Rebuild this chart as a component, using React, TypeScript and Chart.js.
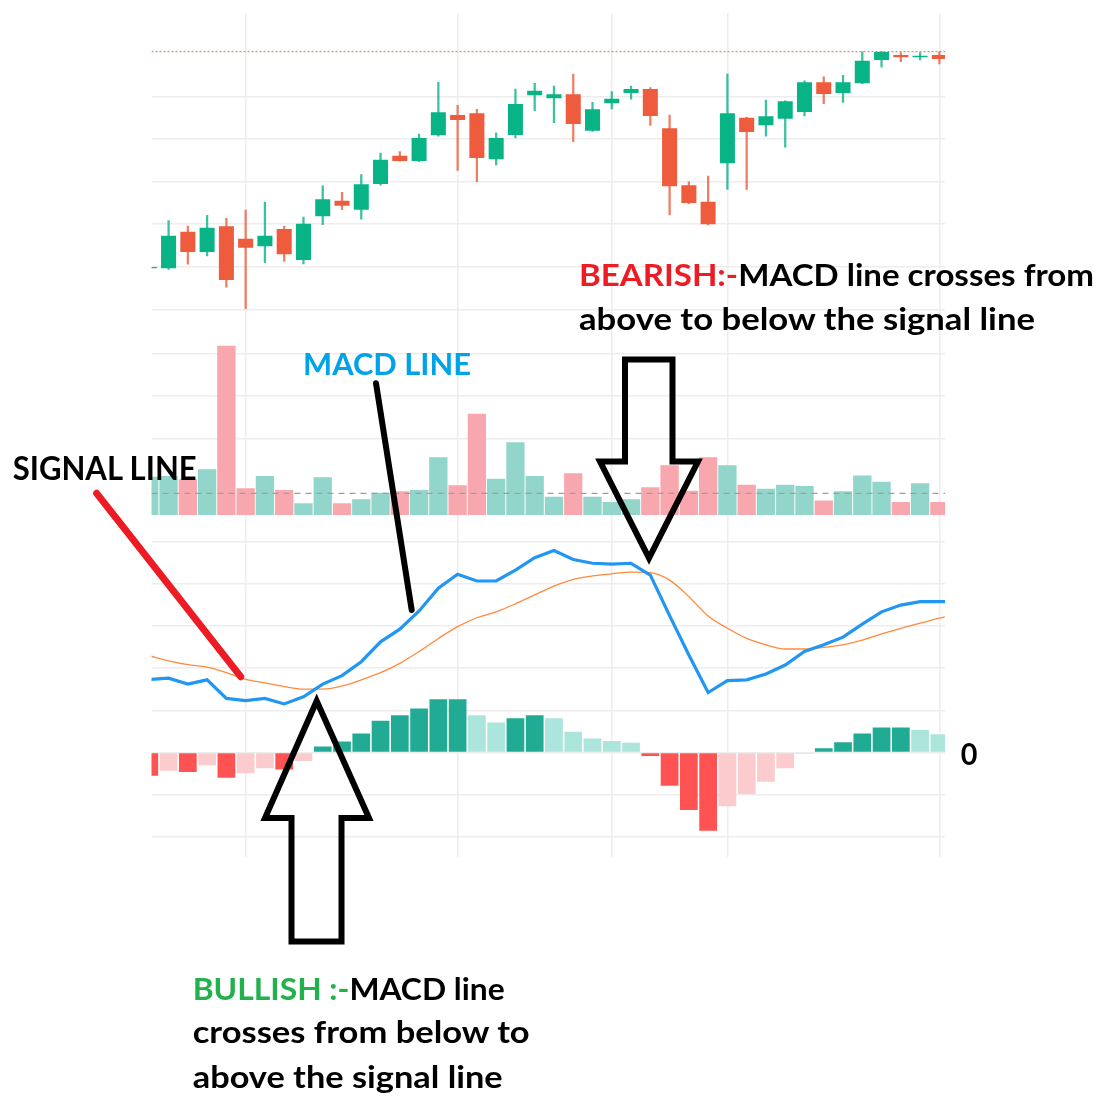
import React, { useEffect, useRef } from 'react';
import { Chart, registerables } from 'chart.js';

Chart.register(...registerables);

// ---- categories (trading sessions) ----
const sessions = Array.from({ length: 42 }, (_, i) => i);
const periodMarks = [5, 16, 24, 30, 41];

// ---- price candles ----
const openPrices = [104.83, 104.82, 109.12, 106.73, 109.75, 108.3, 107.4, 109.44, 105.79, 110.93, 112.76, 111.7, 114.72, 118.05, 117.43, 120.45, 122.83, 123.03, 117.63, 120.48, 125.15, 124.79, 125.26, 120.99, 124.21, 125.42, 125.89, 121.27, 114.57, 112.64, 117.16, 122.52, 121.62, 122.4, 123.18, 126.67, 125.42, 126.56, 129.29, 129.88, 129.61, 129.88];
const closePrices = [104.98, 108.65, 106.73, 109.59, 103.44, 107.24, 108.65, 106.46, 110.06, 112.93, 112.17, 114.69, 117.58, 117.43, 120.13, 123.15, 122.24, 117.78, 120.13, 124.12, 125.69, 125.26, 121.77, 123.5, 124.75, 125.89, 122.71, 114.45, 112.49, 109.99, 123.03, 120.83, 122.68, 124.44, 126.67, 125.3, 126.67, 129.21, 130.24, 129.61, 129.8, 129.41];
const highPrices = [105.05, 110.41, 109.79, 111.05, 110.69, 111.67, 112.61, 109.75, 110.85, 114.52, 113.75, 115.82, 118.37, 118.52, 120.6, 126.67, 123.97, 123.5, 120.75, 125.89, 126.56, 126.24, 127.65, 124.32, 125.57, 126.24, 126.04, 122.83, 114.99, 115.66, 127.65, 122.6, 124.59, 124.5, 126.86, 127.33, 127.5, 130.24, 130.27, 130.16, 130.16, 130.24];
const lowPrices = [104.78, 104.7, 105.29, 106.26, 102.59, 100.07, 105.48, 105.64, 105.32, 109.94, 111.7, 110.58, 114.6, 117.4, 117.35, 120.35, 116.33, 114.99, 116.96, 120.13, 123.34, 121.93, 119.69, 120.9, 123.54, 124.68, 121.62, 111.08, 112.4, 109.9, 114.1, 114.1, 120.33, 119.04, 122.71, 124.16, 124.32, 126.5, 128.44, 129.1, 129.29, 128.82];
const priceLineLevel = 130.27;
const priceGrid = [100, 105, 110, 115, 120, 125];

// ---- volume ----
const volumes = [9.0, 9.2, 8.4, 10.75, 39.8, 6.3, 9.2, 5.9, 2.75, 8.9, 2.75, 3.7, 5.25, 5.6, 5.9, 13.6, 7.0, 23.8, 8.5, 17.1, 9.2, 4.3, 9.8, 4.3, 3.05, 3.7, 6.5, 11.7, 5.7, 13.6, 11.7, 7.1, 6.2, 7.1, 6.8, 3.4, 5.6, 9.3, 7.8, 3.05, 7.45, 3.05];
const volumeAvgLevel = 5.1;
const volumeGrid = [18, 28, 38];

// ---- MACD (lines run one session past the visible edge) ----
const macdLine = [1.73, 1.76, 1.62, 1.72, 1.28, 1.23, 1.28, 1.15, 1.32, 1.62, 1.82, 2.15, 2.62, 2.92, 3.35, 3.89, 4.22, 4.06, 4.06, 4.32, 4.61, 4.78, 4.57, 4.48, 4.46, 4.48, 4.2, 3.24, 2.31, 1.42, 1.7, 1.72, 1.86, 2.07, 2.39, 2.55, 2.73, 3.04, 3.33, 3.49, 3.57, 3.57, 3.57];
const signalLine = [2.29, 2.17, 2.08, 2.02, 1.89, 1.73, 1.65, 1.56, 1.5, 1.5, 1.57, 1.72, 1.89, 2.11, 2.39, 2.7, 2.98, 3.19, 3.33, 3.52, 3.73, 3.94, 4.1, 4.18, 4.23, 4.27, 4.26, 4.08, 3.69, 3.23, 2.94, 2.7, 2.55, 2.45, 2.45, 2.49, 2.55, 2.66, 2.81, 2.94, 3.06, 3.18, 3.28];
const histogram = [-0.55, -0.43, -0.46, -0.3, -0.6, -0.49, -0.37, -0.4, -0.2, 0.14, 0.26, 0.45, 0.75, 0.88, 1.04, 1.26, 1.26, 0.88, 0.71, 0.81, 0.88, 0.81, 0.49, 0.33, 0.27, 0.23, -0.08, -0.79, -1.36, -1.85, -1.27, -0.98, -0.69, -0.37, -0.03, 0.1, 0.24, 0.45, 0.59, 0.59, 0.53, 0.43];
const macdGrid = [-2, -1, 0, 1, 2, 3, 4, 5];

// ---- styling ----
const GREEN = '#08B386';
const RED = '#EE5B3D';
const GRID = '#EDEDED';

const X_MIN = 0.114;
const X_MAX = 41.292;

function hiddenAxis(min: number, max: number, ticks: number[]) {
  return {
    type: 'linear' as const,
    position: 'left' as const,
    min,
    max,
    bounds: 'data' as const,
    ticks: { display: false },
    border: { display: false },
    grid: { color: GRID, lineWidth: 1.5, drawTicks: false },
    afterBuildTicks: (axis: any) => {
      axis.ticks = ticks.map((v) => ({ value: v }));
    },
  };
}

export default function App() {
  const ref = useRef<HTMLCanvasElement>(null);

  useEffect(() => {
    const up = sessions.map((i) => closePrices[i] >= openPrices[i]);
    const bodyColors = up.map((u) => (u ? GREEN : RED));
    const wickColors = up.map((u) => (u ? 'rgba(8,179,134,0.8)' : 'rgba(238,91,61,0.8)'));
    const volColors = up.map((u) => (u ? '#92D5CA' : '#F9A7AE'));
    const histColors = histogram.map((v, i) => {
      const prev = i > 0 ? histogram[i - 1] : v;
      if (v >= 0) return v >= prev ? '#22AB94' : '#ACE5DC';
      return v <= prev ? '#FF5252' : '#FCCBCD';
    });

    const chart = new Chart(ref.current as HTMLCanvasElement, {
      type: 'bar',
      data: {
        datasets: [
          {
            type: 'line',
            label: 'MACD',
            data: macdLine.map((v, i) => ({ x: i, y: v })),
            yAxisID: 'yH',
            borderColor: '#2196F3',
            borderWidth: 3.2,
            pointRadius: 0,
            tension: 0,
            order: 1,
          } as any,
          {
            type: 'line',
            label: 'Signal',
            data: signalLine.map((v, i) => ({ x: i, y: v })),
            yAxisID: 'yH',
            borderColor: '#FF8A3D',
            borderWidth: 1.3,
            pointRadius: 0,
            cubicInterpolationMode: 'monotone',
            order: 2,
          } as any,
          {
            type: 'bar',
            label: 'Histogram',
            data: sessions.map((i) => ({ x: i, y: histogram[i] })),
            yAxisID: 'yH',
            backgroundColor: histColors,
            barPercentage: 0.92,
            categoryPercentage: 1,
            grouped: false,
            order: 6,
          } as any,
          {
            type: 'line',
            label: 'Volume average',
            data: [
              { x: X_MIN, y: volumeAvgLevel },
              { x: X_MAX, y: volumeAvgLevel },
            ],
            yAxisID: 'yV',
            borderColor: '#9E9E9E',
            borderWidth: 1.2,
            borderDash: [6, 5],
            pointRadius: 0,
            order: 3,
          } as any,
          {
            type: 'bar',
            label: 'Volume',
            data: sessions.map((i) => ({ x: i, y: volumes[i] })),
            yAxisID: 'yV',
            backgroundColor: volColors,
            barPercentage: 0.95,
            categoryPercentage: 1,
            grouped: false,
            order: 7,
          } as any,
          {
            type: 'line',
            label: 'Price line',
            data: [
              { x: X_MIN, y: priceLineLevel },
              { x: X_MAX, y: priceLineLevel },
            ],
            yAxisID: 'yP',
            borderColor: 'rgba(238,91,61,0.75)',
            borderWidth: 1.2,
            borderDash: [2, 2],
            pointRadius: 0,
            order: 4,
          } as any,
          {
            type: 'bar',
            label: 'Candle body',
            data: sessions.map((i) => ({ x: i, y: [openPrices[i], closePrices[i]] })),
            yAxisID: 'yP',
            backgroundColor: bodyColors,
            barPercentage: 0.78,
            categoryPercentage: 1,
            grouped: false,
            order: 8,
          } as any,
          {
            type: 'bar',
            label: 'Candle wick',
            data: sessions.map((i) => ({ x: i, y: [lowPrices[i], highPrices[i]] })),
            yAxisID: 'yP',
            backgroundColor: wickColors,
            barThickness: 1.6,
            grouped: false,
            order: 9,
          } as any,
        ],
      },
      options: {
        responsive: false,
        animation: false,
        events: [],
        layout: { padding: { left: 151.5, top: 13, right: 156, bottom: 243 } },
        plugins: { legend: { display: false }, tooltip: { enabled: false } },
        scales: {
          x: {
            type: 'linear',
            min: X_MIN,
            max: X_MAX,
            offset: false,
            bounds: 'data',
            ticks: { display: false },
            border: { display: false },
            grid: { color: GRID, lineWidth: 1.5, drawTicks: false, offset: false },
            afterBuildTicks: (axis: any) => {
              axis.ticks = periodMarks.map((v) => ({ value: v }));
            },
          },
          yP: hiddenAxis(35.64, 134.817, priceGrid),
          yV: hiddenAxis(-80.471, 118.118, volumeGrid),
          yH: hiddenAxis(-2.474, 17.507, macdGrid),
        } as any,
      },
    });
    return () => chart.destroy();
  }, []);

  const font = { fontFamily: 'Lato, "Open Sans", sans-serif', fontWeight: 700 } as const;

  return (
    <div style={{ position: 'absolute', left: 0, top: 0, width: 1101, height: 1100, background: '#fff', overflow: 'hidden' }}>
      <canvas ref={ref} width={1101} height={1100} style={{ position: 'absolute', left: 0, top: 0, display: 'block' }} />
      <svg width={1101} height={1100} style={{ position: 'absolute', left: 0, top: 0 }}>
        {/* pointer lines */}
        <line x1={96.7} y1={493.3} x2={240.7} y2={676.7} stroke="#ED1C24" strokeWidth={7} strokeLinecap="round" />
        <line x1={376} y1={383.3} x2={411.7} y2={610} stroke="#000" strokeWidth={6} strokeLinecap="round" />
        {/* bullish arrow */}
        <polygon
          points="316.7,701 369,818 341.5,818 341.5,941.5 291.5,941.5 291.5,818 265,818"
          fill="none"
          stroke="#000"
          strokeWidth={6}
          strokeLinejoin="miter"
        />
        {/* bearish arrow */}
        <polygon
          points="625,359.5 672.5,359.5 672.5,461.5 698,461.5 649,558 600,461.5 625,461.5"
          fill="none"
          stroke="#000"
          strokeWidth={6}
          strokeLinejoin="miter"
        />
        {/* texts */}
        <text x={12.7} y={480} textLength={184} lengthAdjust="spacingAndGlyphs" fontSize={32} fill="#000" {...font}>
          SIGNAL LINE
        </text>
        <text x={303} y={375} textLength={168} lengthAdjust="spacingAndGlyphs" fontSize={31} fill="#00A2E8" {...font}>
          MACD LINE
        </text>
        <text x={579} y={285.7} textLength={515} lengthAdjust="spacingAndGlyphs" fontSize={30} {...font}>
          <tspan fill="#ED1C24">BEARISH:-</tspan>
          <tspan fill="#000">MACD line crosses from</tspan>
        </text>
        <text x={579} y={330} textLength={456} lengthAdjust="spacingAndGlyphs" fontSize={30} fill="#000" {...font}>
          above to below the signal line
        </text>
        <text x={192.7} y={1000} textLength={312} lengthAdjust="spacingAndGlyphs" fontSize={30} {...font}>
          <tspan fill="#22B14C">BULLISH :-</tspan>
          <tspan fill="#000">MACD line</tspan>
        </text>
        <text x={192.7} y={1043.3} textLength={337} lengthAdjust="spacingAndGlyphs" fontSize={30} fill="#000" {...font}>
          crosses from below to
        </text>
        <text x={192.7} y={1088} textLength={310} lengthAdjust="spacingAndGlyphs" fontSize={30} fill="#000" {...font}>
          above the signal line
        </text>
        <text x={960.7} y={765} textLength={16.7} lengthAdjust="spacingAndGlyphs" fontSize={30} fill="#000" {...font}>
          0
        </text>
      </svg>
    </div>
  );
}
